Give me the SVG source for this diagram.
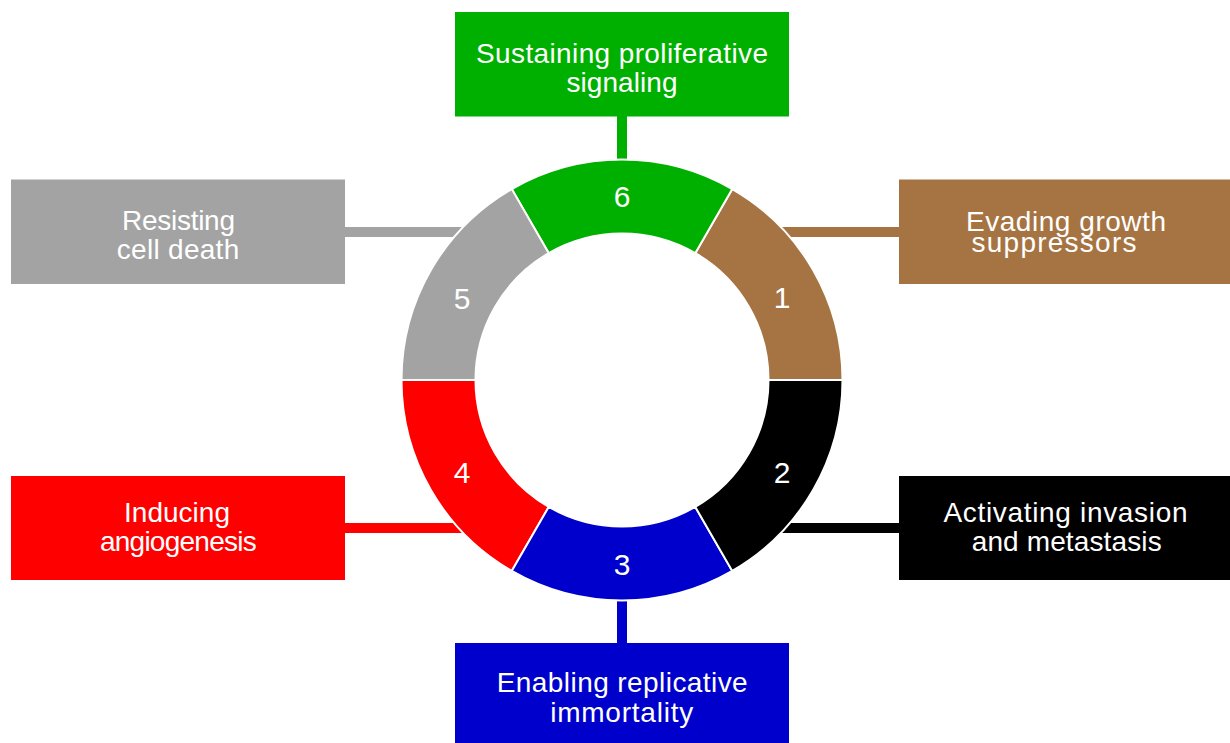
<svg xmlns="http://www.w3.org/2000/svg" width="1230" height="743" viewBox="0 0 1230 743">
  <style>
    .lbl { font-family: "Liberation Sans", Arial, sans-serif; font-size: 28px; fill: #ffffff; text-anchor: middle; }
    .num { font-family: "Liberation Sans", Arial, sans-serif; font-size: 30px; fill: #ffffff; text-anchor: middle; }
    .seg { stroke: #ffffff; stroke-width: 2; stroke-linejoin: miter; }
    .conn { fill: none; stroke-width: 10; stroke-linecap: butt; }
  </style>
  <rect width="1230" height="743" fill="#ffffff"/>

  <g id="connectors">
    <line class="conn" x1="622" y1="116" x2="622" y2="200" stroke="#00B000"/>
    <line class="conn" x1="760" y1="232" x2="899" y2="232" stroke="#A67442"/>
    <line class="conn" x1="345" y1="232" x2="484" y2="232" stroke="#A3A3A3"/>
    <line class="conn" x1="345" y1="528" x2="484" y2="528" stroke="#FF0000"/>
    <line class="conn" x1="760" y1="528" x2="899" y2="528" stroke="#000000"/>
    <line class="conn" x1="622" y1="560" x2="622" y2="643" stroke="#0000CC"/>
  </g>

  <g id="ring">
    <g id="segment-1">
      <path class="seg" fill="#A67442" d="M842.5,380 A220.5,220.5 0 0 0 732.25,189.041 L695.25,253.127 A146.5,146.5 0 0 1 768.5,380 Z"/>
      <text class="num" x="782" y="308">1</text>
    </g>
    <g id="segment-6">
      <path class="seg" fill="#00B000" d="M732.25,189.041 A220.5,220.5 0 0 0 511.75,189.041 L548.75,253.127 A146.5,146.5 0 0 1 695.25,253.127 Z"/>
      <text class="num" x="622" y="207">6</text>
    </g>
    <g id="segment-5">
      <path class="seg" fill="#A3A3A3" d="M511.75,189.041 A220.5,220.5 0 0 0 401.5,380 L475.5,380 A146.5,146.5 0 0 1 548.75,253.127 Z"/>
      <text class="num" x="462" y="309">5</text>
    </g>
    <g id="segment-4">
      <path class="seg" fill="#FF0000" d="M401.5,380 A220.5,220.5 0 0 0 511.75,570.959 L548.75,506.873 A146.5,146.5 0 0 1 475.5,380 Z"/>
      <text class="num" x="462" y="483">4</text>
    </g>
    <g id="segment-3">
      <path class="seg" fill="#0000CC" d="M511.75,570.959 A220.5,220.5 0 0 0 732.25,570.959 L695.25,506.873 A146.5,146.5 0 0 1 548.75,506.873 Z"/>
      <text class="num" x="622" y="575">3</text>
    </g>
    <g id="segment-2">
      <path class="seg" fill="#000000" d="M732.25,570.959 A220.5,220.5 0 0 0 842.5,380 L768.5,380 A146.5,146.5 0 0 1 695.25,506.873 Z"/>
      <text class="num" x="782" y="483">2</text>
    </g>
  </g>

  <g id="box-sustaining">
    <rect x="455" y="12" width="334" height="104.5" fill="#00B000"/>
    <text class="lbl" x="622" y="63" textLength="292" lengthAdjust="spacing">Sustaining proliferative</text>
    <text class="lbl" x="622" y="92" textLength="111" lengthAdjust="spacing">signaling</text>
  </g>

  <g id="box-evading">
    <rect x="899" y="179.5" width="331" height="104.5" fill="#A67442"/>
    <text class="lbl" x="1066" y="231" textLength="200" lengthAdjust="spacing">Evading growth</text>
    <text class="lbl" x="1054" y="252" textLength="165" lengthAdjust="spacing">suppressors</text>
  </g>

  <g id="box-resisting">
    <rect x="11" y="179.5" width="334" height="104.5" fill="#A3A3A3"/>
    <text class="lbl" x="178.5" y="230" textLength="113" lengthAdjust="spacing">Resisting</text>
    <text class="lbl" x="178" y="258.5" textLength="122.5" lengthAdjust="spacing">cell death</text>
  </g>

  <g id="box-inducing">
    <rect x="11" y="476" width="334" height="104" fill="#FF0000"/>
    <text class="lbl" x="177" y="521.5" textLength="106" lengthAdjust="spacing">Inducing</text>
    <text class="lbl" x="178.3" y="550.5" textLength="156.7" lengthAdjust="spacing">angiogenesis</text>
  </g>

  <g id="box-activating">
    <rect x="899" y="476" width="331" height="104" fill="#000000"/>
    <text class="lbl" x="1065.5" y="521.5" textLength="244" lengthAdjust="spacing">Activating invasion</text>
    <text class="lbl" x="1066.7" y="551" textLength="190" lengthAdjust="spacing">and metastasis</text>
  </g>

  <g id="box-enabling">
    <rect x="455" y="643" width="334" height="105" fill="#0000CC"/>
    <text class="lbl" x="622.2" y="692" textLength="251" lengthAdjust="spacing">Enabling replicative</text>
    <text class="lbl" x="621.7" y="721.5" textLength="143" lengthAdjust="spacing">immortality</text>
  </g>
</svg>
